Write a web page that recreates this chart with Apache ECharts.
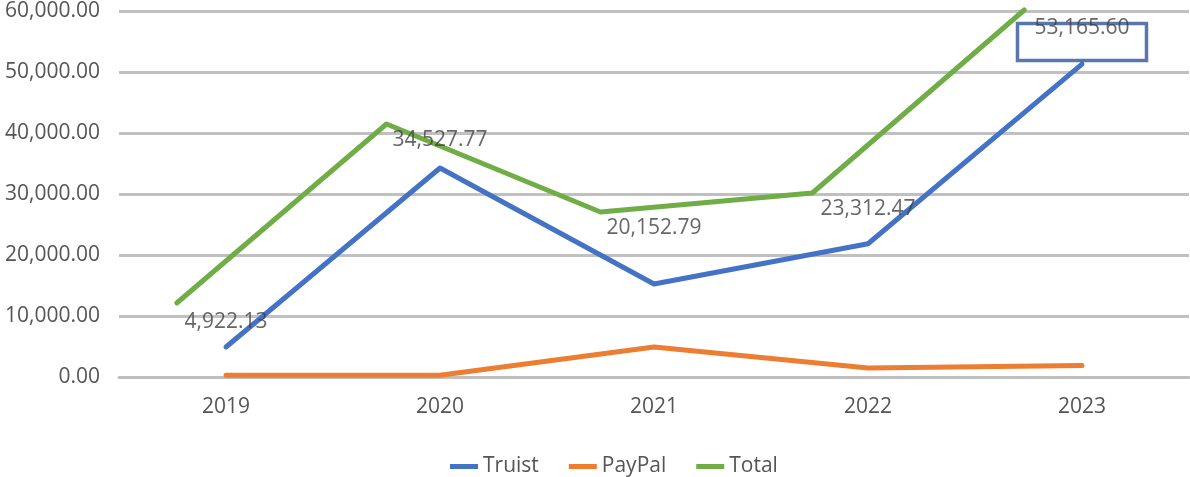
<!DOCTYPE html>
<html>
<head>
<meta charset="utf-8">
<script src="https://cdn.jsdelivr.net/npm/echarts@6/dist/echarts.min.js"></script>
<style>
  html, body { margin: 0; padding: 0; background: #fff; }
  #main { width: 1190px; height: 477px; }
</style>
</head>
<body>
<div id="main"></div>
<script>
// data
var years = ['2019', '2020', '2021', '2022', '2023'];
var truist = [4922, 34262, 15235, 21850, 51300];
var paypal = [300, 300, 4918, 1460, 1865];
var total = [12131, 41475, 27049, 30164, 60164];
// the Total line is drawn shifted left of the category centres
var totalX = [-0.23, 0.75, 1.75, 2.74, 3.73];
var totalLabels = [4922.13, 34527.77, 20152.79, 23312.47, 53165.60];
var yTicks = { min: 0, max: 60000, interval: 10000 };

function fmt(v) {
  return Number(v).toLocaleString('en-US', { minimumFractionDigits: 2, maximumFractionDigits: 2 });
}

var myChart = echarts.init(document.getElementById('main'));
var font = 'Open Sans';

var option = {
  animation: false,
  textStyle: { fontFamily: font },
  grid: { left: 119, right: 1, top: 11, bottom: 100 },
  legend: {
    data: ['Truist', 'PayPal', 'Total'],
    left: 445,
    top: 451,
    icon: 'rect',
    itemWidth: 28,
    itemHeight: 5,
    itemGap: 30,
    textStyle: { color: '#555555', fontSize: 21, fontFamily: font }
  },
  xAxis: [{
    type: 'category',
    data: years,
    axisTick: { show: false },
    axisLine: { lineStyle: { color: '#bfbfbf', width: 3 } },
    axisLabel: { color: '#555555', fontSize: 21, margin: 20, fontFamily: font }
  }, {
    type: 'value',
    min: -0.5,
    max: 4.5,
    show: false
  }],
  yAxis: {
    type: 'value',
    min: yTicks.min,
    max: yTicks.max,
    interval: yTicks.interval,
    axisLine: { show: false },
    axisTick: { show: false },
    axisLabel: {
      color: '#555555', fontSize: 21, margin: 19, fontFamily: font,
      formatter: fmt
    },
    splitLine: { lineStyle: { color: '#c0c0c0', width: 3 } }
  },
  series: [{
    name: 'Truist',
    type: 'line',
    data: truist,
    symbol: 'none',
    color: '#4472C4',
    lineStyle: { width: 5, cap: 'round', join: 'round' }
  }, {
    name: 'PayPal',
    type: 'line',
    data: paypal,
    symbol: 'none',
    color: '#ED7D31',
    lineStyle: { width: 5, cap: 'round', join: 'round' }
  }, {
    name: 'Total',
    type: 'line',
    xAxisIndex: 1,
    data: total.map(function (v, i) { return [totalX[i], v]; }),
    symbol: 'none',
    clip: false,
    color: '#70AD47',
    lineStyle: { width: 5, cap: 'round', join: 'round' }
  }, {
    // value labels, sitting under the Total line at the category centres
    name: 'labels',
    type: 'scatter',
    data: total.map(function (v, i) {
      if (i === 4) {
        return {
          value: v,
          label: {
            borderColor: '#2F5597',
            borderWidth: 3.5,
            padding: [0, 17, 27, 17],
            lineHeight: 10,
            distance: 13
          }
        };
      }
      if (i === 0) {
        return { value: v, label: { distance: 8 } };
      }
      return v;
    }),
    symbolSize: 1,
    itemStyle: { color: 'rgba(0,0,0,0)' },
    silent: true,
    clip: false,
    label: {
      show: true,
      position: 'bottom',
      distance: 5,
      color: '#404040',
      fontSize: 21,
      fontFamily: font,
      formatter: function (p) { return fmt(totalLabels[p.dataIndex]); }
    },
    z: 5
  }]
};

myChart.setOption(option);
</script>
</body>
</html>
